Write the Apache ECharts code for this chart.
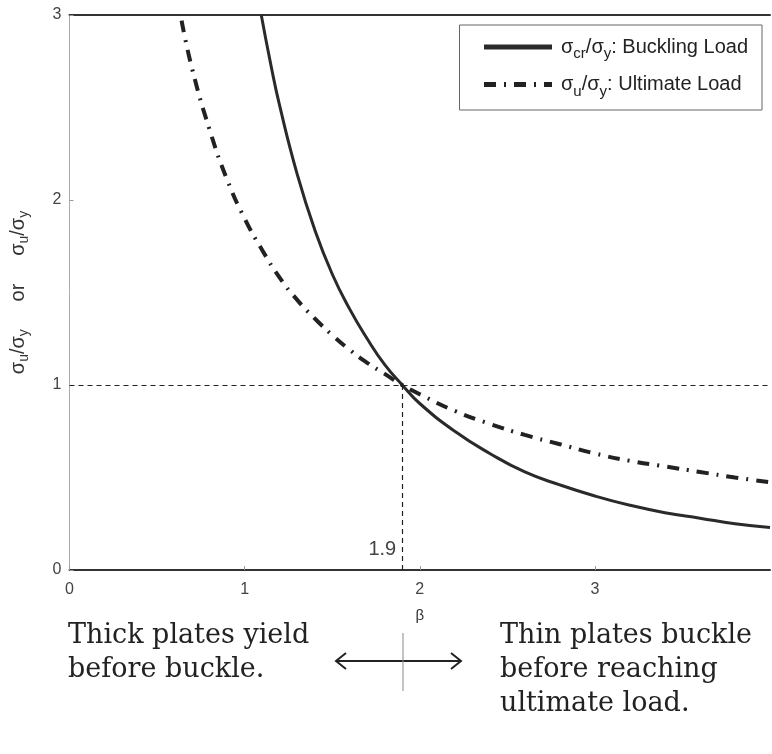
<!DOCTYPE html>
<html>
<head>
<meta charset="utf-8">
<script src="https://cdn.jsdelivr.net/npm/echarts@6/dist/echarts.min.js"></script>
<style>
  html, body { margin: 0; padding: 0; background: #fff; }
  #main { width: 772px; height: 754px; }
</style>
</head>
<body>
<div id="main"></div>
<script>
// values
const betaBuckling = [1.095, 1.15, 1.2, 1.3, 1.4, 1.5, 1.6, 1.7, 1.8, 1.9, 2.0, 2.2, 2.4, 2.6, 2.8, 3.0, 3.2, 3.4, 3.6, 3.8, 4.0]
const bucklingLoad = [3.0, 2.73, 2.51, 2.14, 1.84, 1.6, 1.41, 1.25, 1.11, 1.0, 0.9, 0.75, 0.63, 0.53, 0.46, 0.4, 0.35, 0.31, 0.28, 0.25, 0.23]
const betaUltimate = [0.64, 0.7, 0.8, 0.9, 1.0, 1.1, 1.2, 1.3, 1.4, 1.5, 1.6, 1.7, 1.8, 1.9, 2.0, 2.2, 2.4, 2.6, 2.8, 3.0, 3.2, 3.4, 3.6, 3.8, 4.0]
const ultimateLoad = [2.97, 2.71, 2.38, 2.11, 1.9, 1.73, 1.58, 1.46, 1.36, 1.27, 1.19, 1.12, 1.06, 1.0, 0.95, 0.86, 0.79, 0.73, 0.68, 0.63, 0.59, 0.56, 0.53, 0.5, 0.475]
const refBeta = 1.9
const refRatio = 1

const names = {
  buckling: 'σcr/σy: Buckling Load',
  ultimate: 'σu/σy: Ultimate Load'
}
const legendRich = {
  buckling: 'σ{sub|cr}/σ{sub|y}: Buckling Load',
  ultimate: 'σ{sub|u}/σ{sub|y}: Ultimate Load'
}

const pair = (xs, ys) => xs.map((x, i) => [x, ys[i]])

const chart = echarts.init(document.getElementById('main'))
chart.setOption({
  backgroundColor: '#ffffff',
  animation: false,
  grid: { left: 66, right: 2, top: 15, bottom: 184 },
  legend: {
    orient: 'vertical',
    right: 10,
    top: 25,
    padding: [12, 14, 11, 22],
    itemGap: 13,
    itemWidth: 68,
    itemHeight: 14,
    borderColor: '#666',
    borderWidth: 1,
    backgroundColor: '#fff',
    itemStyle: { opacity: 0 },
    lineStyle: { width: 5 },
    data: [names.buckling, names.ultimate],
    formatter: function(name) {
      return name === names.buckling ? legendRich.buckling : legendRich.ultimate
    },
    textStyle: {
      fontFamily: 'Liberation Sans',
      fontSize: 20,
      color: '#222',
      padding: [0, 0, 0, 4],
      rich: {
        sub: { fontSize: 15, verticalAlign: 'bottom', padding: [14, 0, 0, 0], fontFamily: 'Liberation Sans', color: '#222' }
      }
    }
  },
  xAxis: [{
    type: 'value',
    min: 0,
    max: 4,
    interval: 1,
    name: 'β',
    nameLocation: 'middle',
    nameGap: 38,
    nameTextStyle: { fontFamily: 'Liberation Sans', fontSize: 15, color: '#333' },
    axisLine: { onZero: false, lineStyle: { color: '#333', width: 2 } },
    axisTick: { inside: true, length: 4, lineStyle: { color: '#999' } },
    axisLabel: {
      showMaxLabel: false,
      margin: 12,
      fontFamily: 'Liberation Sans',
      fontSize: 16,
      color: '#444'
    },
    splitLine: { show: false }
  }, {
    type: 'value',
    position: 'top',
    min: 0,
    max: 4,
    axisLine: { show: true, onZero: false, lineStyle: { color: '#333', width: 2 } },
    axisTick: { show: false },
    axisLabel: { show: false },
    splitLine: { show: false }
  }],
  yAxis: {
    type: 'value',
    min: 0,
    max: 3,
    interval: 1,
    name: 'σ{sub|u}/σ{sub|y}     or     σ{sub|u}/σ{sub|y}',
    nameLocation: 'middle',
    nameRotate: 90,
    nameGap: 38,
    nameTextStyle: {
      fontFamily: 'Liberation Sans',
      fontSize: 20,
      color: '#333',
      rich: {
        sub: { fontSize: 14, color: '#333', fontFamily: 'Liberation Sans', verticalAlign: 'bottom', padding: [13, 0, 0, 0] }
      }
    },
    axisLine: { show: true, onZero: false, lineStyle: { color: '#aaa', width: 1 } },
    axisTick: { inside: true, length: 4, lineStyle: { color: '#999' } },
    axisLabel: {
      margin: 8,
      fontFamily: 'Liberation Sans',
      fontSize: 16,
      color: '#444'
    },
    splitLine: { show: false }
  },
  series: [{
    name: names.buckling,
    type: 'line',
    smooth: true,
    symbol: 'none',
    data: pair(betaBuckling, bucklingLoad),
    lineStyle: { color: '#2a2a2a', width: 3 },
    itemStyle: { color: '#2a2a2a' },
    z: 3
  }, {
    name: names.ultimate,
    type: 'line',
    smooth: true,
    symbol: 'none',
    data: pair(betaUltimate, ultimateLoad),
    lineStyle: { color: '#222', width: 4, type: [12, 8, 2, 8] },
    itemStyle: { color: '#222' },
    z: 3,
    markLine: {
      silent: true,
      symbol: 'none',
      label: { show: false },
      lineStyle: { color: '#222', width: 1.2, type: [5, 4] },
      data: [
        [{ coord: [0, refRatio] }, { coord: [4, refRatio] }],
        [{ coord: [refBeta, refRatio] }, { coord: [refBeta, 0] }]
      ]
    },
    markPoint: {
      silent: true,
      symbol: 'circle',
      symbolSize: 0,
      data: [{ coord: [refBeta, 0.11], value: refBeta }],
      label: {
        show: true,
        position: 'left',
        distance: 6,
        formatter: '{c}',
        fontFamily: 'Liberation Sans',
        fontSize: 20,
        color: '#444'
      }
    }
  }],
  graphic: [{
    type: 'text',
    left: 68,
    top: 619,
    style: {
      text: 'Thick plates yield\nbefore buckle.',
      fontFamily: 'DejaVu Serif',
      fontSize: 27,
      lineHeight: 34,
      fill: '#222'
    }
  }, {
    type: 'text',
    left: 500,
    top: 619,
    style: {
      text: 'Thin plates buckle\nbefore reaching\nultimate load.',
      fontFamily: 'DejaVu Serif',
      fontSize: 27,
      lineHeight: 34,
      fill: '#222'
    }
  }, {
    type: 'line',
    shape: { x1: 336, y1: 661, x2: 461, y2: 661 },
    style: { stroke: '#222', lineWidth: 2 }
  }, {
    type: 'polyline',
    shape: { points: [[346, 653], [336, 661], [346, 669]] },
    style: { stroke: '#222', lineWidth: 2, fill: null }
  }, {
    type: 'polyline',
    shape: { points: [[451, 653], [461, 661], [451, 669]] },
    style: { stroke: '#222', lineWidth: 2, fill: null }
  }, {
    type: 'line',
    shape: { x1: 403, y1: 633, x2: 403, y2: 691 },
    style: { stroke: '#888', lineWidth: 1 }
  }]
})
</script>
</body>
</html>
